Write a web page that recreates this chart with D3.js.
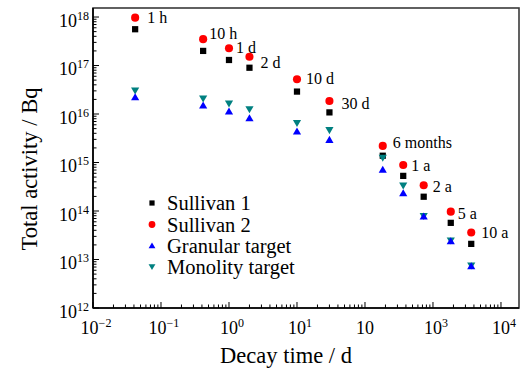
<!DOCTYPE html>
<html><head><meta charset="utf-8">
<script src="https://cdn.jsdelivr.net/npm/d3@7"></script>
<style>
html,body{margin:0;padding:0;background:#fff;}
svg{display:block;}
</style></head>
<body>
<svg id="chart" width="523" height="376"></svg>
<script>
// ---- data ----
const times = [1/24, 10/24, 1, 2, 10, 30, 182.5, 365, 730, 1826, 3652];
const timeLabels = ["1 h","10 h","1 d","2 d","10 d","30 d","6 months","1 a","2 a","5 a","10 a"];
const sullivan1 = [5.6e17, 2.0e17, 1.3e17, 9.0e16, 2.9e16, 1.08e16, 1.38e15, 5.3e14, 1.97e14, 5.7e13, 2.1e13];
const sullivan2 = [9.7e17, 3.5e17, 2.27e17, 1.52e17, 5.2e16, 1.85e16, 2.2e15, 8.9e14, 3.4e14, 9.7e13, 3.6e13];
const granular  = [2.2e16, 1.48e16, 1.11e16, 8.1e15, 4.3e15, 2.9e15, 7.0e14, 2.3e14, 7.6e13, 2.35e13, 7.2e12];
const monolity  = [3.1e16, 2.1e16, 1.66e16, 1.26e16, 6.6e15, 4.7e15, 1.26e15, 3.4e14, 8.0e13, 2.5e13, 7.6e12];
const seriesNames = ["Sullivan 1","Sullivan 2","Granular target","Monolity target"];
const xTickExps = [-2,-1,0,1,2,3,4];
const xTickTexts = [["10","\u22122"],["10","\u22121"],["10","0"],["10","1"],["10",""],["10","3"],["10","4"]];
const yTickExps = [12,13,14,15,16,17,18];

// ---- layout ----
const FONT = "Liberation Serif";
const L = 93, R = 519, T = 8, B = 308;
const svg = d3.select("#chart");
const x = d3.scaleLog().domain([1e-2, Math.pow(10, 4.265)]).range([L, R]);
const y = d3.scaleLog().domain([1e12, Math.pow(10, 18.186)]).range([B, T]);

function txt(sel) { return sel.append("text").style("font-family", FONT).attr("fill", "#000"); }

// frame
svg.append("rect").attr("x", L).attr("y", T).attr("width", R - L).attr("height", B - T)
  .attr("fill", "none").attr("stroke", "#3a3a3a").attr("stroke-width", 1.6);
svg.append("line").attr("x1", L).attr("x2", R).attr("y1", B).attr("y2", B).attr("stroke", "#000").attr("stroke-width", 1.6);
svg.append("line").attr("x1", L).attr("x2", L).attr("y1", T).attr("y2", B).attr("stroke", "#000").attr("stroke-width", 1.6);

// x ticks (inward)
const g = svg.append("g");
for (let e = -2; e <= 4; e++) {
  for (let m = 1; m <= 9; m++) {
    const v = m * Math.pow(10, e);
    if (v > x.domain()[1]) continue;
    const px = x(v);
    g.append("line").attr("x1", px).attr("x2", px).attr("y1", B).attr("y2", B - (m === 1 ? 6 : 3.5))
      .attr("stroke", "#000").attr("stroke-width", 1);
  }
}
xTickExps.forEach((e, i) => {
  const t = txt(svg).attr("x", x(Math.pow(10, e)) + (xTickTexts[i][1] ? 3 : 0)).attr("y", 334)
    .attr("text-anchor", "middle").attr("font-size", 18);
  t.append("tspan").text(xTickTexts[i][0]);
  if (xTickTexts[i][1]) t.append("tspan").attr("font-size", 12).attr("dy", -7).text(xTickTexts[i][1]);
});

// y ticks (inward)
for (let e = 12; e <= 18; e++) {
  for (let m = 1; m <= 9; m++) {
    const v = m * Math.pow(10, e);
    if (v > y.domain()[1]) continue;
    const py = y(v);
    g.append("line").attr("x1", L).attr("x2", L + (m === 1 ? 6 : 3.5)).attr("y1", py).attr("y2", py)
      .attr("stroke", "#000").attr("stroke-width", 1);
  }
}
yTickExps.forEach(e => {
  const t = txt(svg).attr("x", 89).attr("y", y(Math.pow(10, e)) + 9.5)
    .attr("text-anchor", "end").attr("font-size", 18);
  t.append("tspan").text("10");
  t.append("tspan").attr("font-size", 12).attr("dy", -7).text(String(e));
});

// axis titles
txt(svg).attr("x", 286).attr("y", 363).attr("text-anchor", "middle")
  .attr("font-size", 22.5).text("Decay time / d");
txt(svg).attr("transform", "translate(37,169) rotate(-90)").attr("text-anchor", "middle")
  .attr("font-size", 22.5).text("Total activity / Bq");

// symbols
const colors = ["#000000", "#ff0000", "#0000ff", "#008080"];
function drawSymbol(sel, k, cx, cy, s) {
  if (k === 0) {
    sel.append("rect").attr("x", cx - s * 0.4).attr("y", cy - s * 0.4).attr("width", s * 0.8).attr("height", s * 0.8).attr("fill", colors[0]);
  } else if (k === 1) {
    sel.append("circle").attr("cx", cx).attr("cy", cy).attr("r", s * 0.52).attr("fill", colors[1]);
  } else if (k === 2) {
    const h = s * 0.9, w = s * 1.05;
    sel.append("path").attr("d", `M${cx},${cy - h * 0.6}L${cx + w / 2},${cy + h * 0.4}L${cx - w / 2},${cy + h * 0.4}Z`).attr("fill", colors[2]);
  } else {
    const h = s * 0.9, w = s * 1.05;
    sel.append("path").attr("d", `M${cx},${cy + h * 0.6}L${cx + w / 2},${cy - h * 0.4}L${cx - w / 2},${cy - h * 0.4}Z`).attr("fill", colors[3]);
  }
}
const allSeries = [sullivan1, sullivan2, granular, monolity];
const drawOrder = [0, 1, 3, 2];
const pts = svg.append("g");
drawOrder.forEach(k => {
  allSeries[k].forEach((v, i) => drawSymbol(pts, k, x(times[i]), y(v), 7.8));
});

// time labels next to Sullivan 2 points
const labelOffsets = [[12,0],[6,-6],[7,-1],[11,6],[9,-1],[12,2],[10,-3],[8,1],[9,1],[7,2],[10,0]];
timeLabels.forEach((lab, i) => {
  txt(svg).attr("x", x(times[i]) + labelOffsets[i][0]).attr("y", y(sullivan2[i]) + labelOffsets[i][1] + 5.5)
    .attr("font-size", 16).text(lab);
});

// legend
const legY = [203, 224.5, 246, 266.5];
seriesNames.forEach((n, k) => {
  drawSymbol(svg, k, 152, legY[k], 6.5);
  txt(svg).attr("x", 167).attr("y", legY[k] + 7).attr("font-size", 20.5).text(n);
});
</script>
</body></html>
